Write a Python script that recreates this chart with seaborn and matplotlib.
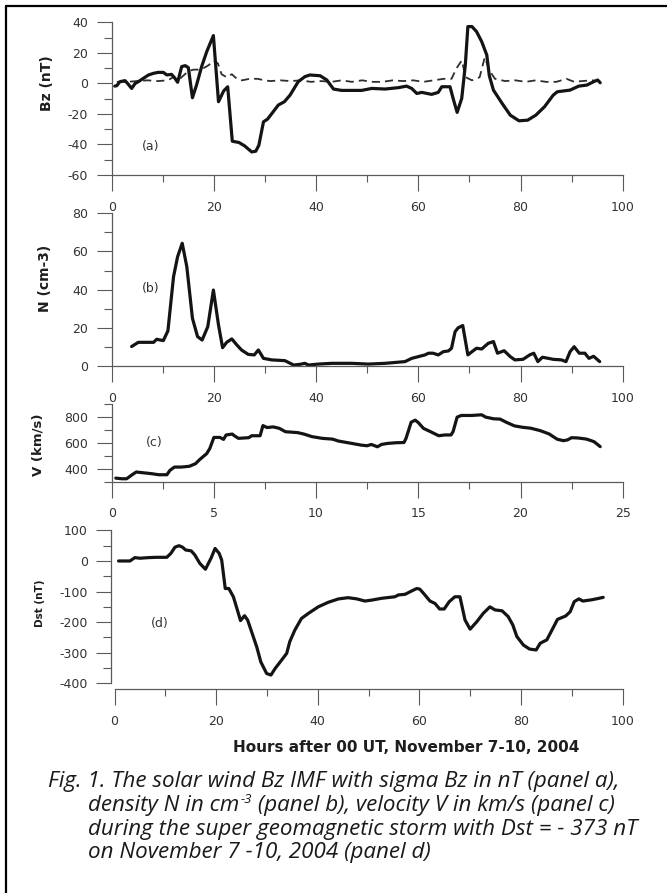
import numpy as np
import pandas as pd
import matplotlib
matplotlib.use("Agg")
import matplotlib.pyplot as plt
import seaborn as sns
from matplotlib import font_manager
from matplotlib.lines import Line2D
from matplotlib.ticker import MultipleLocator

# ---------------- data ----------------
bz_hours = [0.6, 1.0, 1.6, 2.6, 3.1, 3.9, 4.6, 5.2, 6.2, 7.2, 8.2, 9.1, 10.1, 10.8, 11.7,
            12.3, 12.9, 13.7, 14.4, 15.0, 15.8, 16.6, 17.6, 18.6, 19.9, 20.9, 21.9, 22.7,
            23.6, 24.9, 26.0, 27.4, 28.2, 28.8, 29.7, 30.5, 31.6, 32.6, 33.8, 34.9, 36.5,
            37.8, 38.8, 40.8, 42.1, 43.4, 45.0, 48.9, 50.9, 53.5, 56.1, 57.7, 58.7, 59.7,
            60.7, 62.6, 63.9, 64.6, 66.2, 66.9, 67.6, 68.5, 69.2, 69.7, 70.5, 71.4, 72.4,
            73.4, 73.9, 74.7, 76.4, 78.0, 79.7, 81.4, 83.0, 84.7, 86.4, 87.2, 89.7, 91.4,
            93.0, 94.3, 95.1, 95.6]
bz_values = [-1.8, -1.5, 1.1, 1.8, 0.0, -3.3, 0.0, 1.1, 3.3, 5.5, 6.6, 7.2, 7.2, 5.5, 5.9,
             3.7, 0.7, 11.0, 11.6, 10.3, -9.4, -1.1, 11.0, 20.8, 31.3, -12.0, -5.0, -2.2,
             -37.9, -38.7, -40.9, -44.9, -44.4, -40.5, -25.2, -23.4, -18.6, -14.2, -12.0, -7.7, 1.1,
             4.4, 5.5, 5.0, 2.2, -3.7, -4.6, -4.6, -3.3, -3.7, -2.8, -1.8, -3.3, -6.6,
             -5.9, -7.2, -5.9, -2.2, -2.2, -10.9, -19.0, -9.8, 12.0, 37.2, 37.2, 33.9, 27.4,
             18.6, 5.0, -4.4, -13.1, -20.8, -24.5, -24.1, -20.8, -15.3, -7.7, -5.5, -4.4, -1.8,
             -1.1, 1.1, 2.2, 0.4]

sigma_hours = [1, 3, 5, 7, 9, 11, 12, 13, 14, 15, 16, 17, 18, 19, 20, 20.8, 21.5, 22.5,
               23.5, 24.5, 25.5, 27, 28.5, 30, 31, 33, 35, 37, 39, 41, 43, 45, 47, 49, 51,
               53, 55, 57, 59, 61, 63, 65, 66.5, 67.5, 68.5, 69.3, 70.5, 72, 73, 74, 75, 77,
               79, 81, 83, 85, 87, 89, 90.5, 92, 94, 96]
sigma_values = [1, 1, 1.5, 2, 1.5, 2, 4, 2, 5, 8, 9, 9, 10, 12, 15, 13, 6, 4,
                6, 3, 2, 3, 3, 2, 1.5, 2, 1.5, 2, 1, 1.5, 1, 2, 1, 2, 1,
                1, 2, 1.5, 2, 1, 2, 3, 3, 10, 15, 4, 2, 4, 17, 8, 3, 1.5,
                2, 1, 2, 1, 1, 3, 1, 1.5, 2, 1]

n_hours = [3.9, 5.2, 8.2, 8.8, 10.1, 11.0, 12.1, 12.9, 13.8, 14.7, 15.8, 16.8, 17.7, 18.8,
           19.9, 20.9, 21.7, 22.5, 23.5, 24.5, 25.4, 26.7, 27.9, 28.7, 29.7, 31.3, 33.9,
           35.6, 36.9, 37.8, 38.5, 40.4, 43.1, 47.0, 50.2, 53.5, 57.4, 58.7, 60.0, 61.3,
           62.0, 62.9, 63.9, 64.9, 65.9, 66.5, 67.2, 67.8, 68.7, 69.7, 70.5, 71.4, 72.4,
           73.7, 74.7, 75.5, 76.8, 78.0, 78.9, 80.5, 81.8, 82.6, 83.4, 84.3, 86.4, 88.0,
           88.9, 89.7, 90.5, 91.5, 92.6, 93.4, 94.3, 95.5]
n_values = [10.2, 12.4, 12.4, 14.0, 13.3, 18.4, 46.8, 57.3, 64.3, 52.0, 25.0, 15.4, 13.6, 20.6,
            39.8, 21.5, 9.6, 12.4, 14.2, 11.0, 8.4, 6.1, 5.8, 8.4, 4.0, 3.2, 2.8,
            0.5, 0.9, 1.4, 0.5, 1.0, 1.4, 1.4, 1.0, 1.4, 2.3, 4.0, 4.9, 5.8,
            6.7, 6.7, 5.8, 7.5, 7.9, 9.3, 18.0, 20.0, 21.2, 5.8, 7.5, 9.3, 8.9,
            11.9, 12.8, 6.7, 8.0, 4.9, 3.2, 3.5, 5.8, 6.7, 2.3, 4.6, 3.5, 3.2,
            2.3, 7.5, 10.1, 6.7, 6.7, 4.0, 5.1, 2.3]

v_hours = [0.2, 0.5, 0.73, 1.0, 1.2, 1.55, 1.96, 2.3, 2.7, 2.85, 3.07, 3.4, 3.8, 4.1, 4.3,
           4.65, 4.8, 5.0, 5.3, 5.47, 5.6, 5.9, 6.0, 6.2, 6.7, 6.85, 7.26, 7.4, 7.6, 7.9,
           8.2, 8.5, 9.1, 9.4, 9.8, 10.3, 10.8, 11.1, 11.75, 12.2, 12.5, 12.7, 13.0, 13.2,
           13.5, 13.9, 14.3, 14.4, 14.65, 14.85, 15.0, 15.25, 15.6, 16.0, 16.3, 16.6, 16.7,
           16.9, 17.1, 17.6, 18.1, 18.3, 18.7, 19.0, 19.3, 19.7, 20.1, 20.5, 20.95, 21.4,
           21.6, 21.8, 22.1, 22.3, 22.5, 22.8, 23.2, 23.35, 23.6, 23.8, 23.9]
v_values = [326, 321, 321, 352, 373, 367, 360, 352, 352, 386, 411, 411, 417, 437, 468,
            515, 554, 639, 639, 624, 658, 665, 652, 632, 637, 652, 652, 730, 715, 720,
            709, 683, 676, 665, 645, 632, 626, 611, 593, 580, 575, 585, 567, 585,
            593, 598, 600, 632, 756, 772, 753, 709, 683, 652, 658, 658, 683,
            795, 808, 808, 813, 795, 782, 780, 756, 728, 717, 710, 692, 666,
            645, 625, 614, 620, 637, 635, 627, 620, 606, 581, 568]

dst_hours = [0.8, 3.05, 4.0, 5.0, 6.7, 8.3, 10.3, 11.1, 11.9, 12.7, 13.4, 14.0, 15.1, 15.8,
             16.8, 17.9, 19.0, 19.8, 20.6, 21.1, 21.8, 22.5, 23.4, 24.2, 24.8, 25.6, 26.2,
             27.0, 28.0, 28.8, 29.95, 30.8, 31.6, 32.9, 33.9, 34.5, 35.5, 36.8, 38.2, 40.1,
             42.1, 44.1, 46.0, 47.7, 49.3, 50.6, 52.6, 55.2, 55.9, 57.2, 58.5, 59.5, 60.1,
             61.1, 62.1, 63.1, 64.0, 64.9, 65.9, 67.0, 68.0, 69.0, 70.0, 71.3, 72.6, 73.9,
             74.9, 76.3, 77.5, 78.4, 79.2, 80.5, 81.7, 83.0, 83.8, 85.1, 86.3, 87.2, 88.8,
             89.7, 90.5, 91.4, 92.2, 93.9, 95.1, 96.2]
dst_values = [0, 0, 11, 9, 11, 12, 12, 25, 45, 50, 45, 36, 33, 20,
              -8, -27, 9, 41, 25, 3, -90, -90, -117, -161, -195, -179, -193,
              -232, -281, -330, -368, -373, -352, -324, -302, -264, -226, -188, -171, -150,
              -135, -124, -120, -124, -131, -128, -122, -117, -111, -109, -98, -90, -92,
              -111, -131, -139, -157, -157, -133, -117, -117, -193, -223, -199, -171, -150,
              -160, -163, -182, -209, -247, -275, -288, -291, -269, -258, -220, -191, -180,
              -166, -133, -124, -131, -127, -123, -119]

y_labels = ["Bz (nT)", "N (cm-3)", "V (km/s)", "Dst (nT)"]
panel_tags = ["(a)", "(b)", "(c)", "(d)"]
x_label = "Hours after 00 UT, November 7-10, 2004"
caption_lines = [
    "Fig. 1. The solar wind Bz IMF with sigma Bz in nT (panel a),",
    ("density N in cm", "-3", " (panel b), velocity V in km/s (panel c)"),
    "during the super geomagnetic storm with Dst = - 373 nT",
    "on November 7 -10, 2004 (panel d)",
]

# ---------------- style ----------------
sns.set_theme(style="ticks")
plt.rcParams['font.family'] = ['DejaVu Sans']
plt.rcParams['axes.facecolor'] = 'white'
plt.rcParams['axes.unicode_minus'] = False

W, H = 667, 893
fig = plt.figure(figsize=(W / 100, H / 100), dpi=100)
fig.patch.set_facecolor('white')


def rect(left, top, right, bottom):
    return [left / W, 1 - bottom / H, (right - left) / W, (bottom - top) / H]


ax_a = fig.add_axes(rect(111.7, 22.3, 622.7, 175.0))
ax_b = fig.add_axes(rect(111.7, 213.3, 622.7, 366.0))
ax_c = fig.add_axes(rect(111.7, 403.5, 622.7, 481.5))
ax_d = fig.add_axes(rect(114.5, 530.4, 622.5, 683.3))

LINE = '#141414'
AXC = '#5a5a5a'
LW = 2.3

df_bz = pd.DataFrame({'hour': bz_hours, 'val': bz_values})
df_sig = pd.DataFrame({'hour': sigma_hours, 'val': sigma_values})
df_n = pd.DataFrame({'hour': n_hours, 'val': n_values})
df_v = pd.DataFrame({'hour': v_hours, 'val': v_values})
df_dst = pd.DataFrame({'hour': dst_hours, 'val': dst_values})

sns.lineplot(data=df_sig, x='hour', y='val', ax=ax_a, color='#2e2e2e', lw=1.3,
             estimator=None, sort=False)
ax_a.lines[-1].set_dashes([4.5, 2.8])
sns.lineplot(data=df_bz, x='hour', y='val', ax=ax_a, color=LINE, lw=LW,
             estimator=None, sort=False)
sns.lineplot(data=df_n, x='hour', y='val', ax=ax_b, color=LINE, lw=LW,
             estimator=None, sort=False)
sns.lineplot(data=df_v, x='hour', y='val', ax=ax_c, color=LINE, lw=LW,
             estimator=None, sort=False)
sns.lineplot(data=df_dst, x='hour', y='val', ax=ax_d, color=LINE, lw=LW,
             estimator=None, sort=False)


def style(ax, xlim, xmaj, xmin, ylim, ymaj, ymin):
    sns.despine(ax=ax)
    ax.set_xlim(*xlim)
    ax.set_ylim(*ylim)
    ax.xaxis.set_major_locator(MultipleLocator(xmaj))
    ax.xaxis.set_minor_locator(MultipleLocator(xmin))
    ax.yaxis.set_major_locator(MultipleLocator(ymaj))
    ax.yaxis.set_minor_locator(MultipleLocator(ymin))
    for s in ['left', 'bottom']:
        ax.spines[s].set_color(AXC)
        ax.spines[s].set_linewidth(0.9)
    ax.tick_params(axis='x', which='major', direction='out', length=11.5, width=0.8,
                   color=AXC, labelsize=9, labelcolor='#333333', pad=7)
    ax.tick_params(axis='x', which='minor', direction='out', length=5, width=0.8, color=AXC)
    ax.tick_params(axis='y', which='major', direction='out', length=10.5, width=0.8,
                   color=AXC, labelsize=9, labelcolor='#333333', pad=6.5)
    ax.tick_params(axis='y', which='minor', direction='out', length=5.5, width=0.8, color=AXC)
    ax.set_xlabel('')
    ax.set_ylabel('')
    ax.patch.set_alpha(0)


style(ax_a, (0, 100), 20, 10, (-60, 40), 20, 10)
style(ax_b, (0, 100), 20, 10, (0, 80), 20, 10)
style(ax_c, (0, 25), 5, 2.5, (300, 900), 200, 100)
ax_c.set_yticks([400, 600, 800])
style(ax_d, (0, 100), 20, 10, (-400, 100), 100, 50)
ax_d.spines['bottom'].set_position(('outward', 4.3))
ax_d.spines['left'].set_position(('outward', 2.2))

# panel tags
tag_kw = dict(fontsize=9, color='#333333', ha='center', va='center')
ax_a.text(7.7, -41.6, panel_tags[0], **tag_kw)
ax_b.text(7.7, 40.7, panel_tags[1], **tag_kw)
ax_c.text(2.08, 600, panel_tags[2], **tag_kw)
ax_d.text(9.0, -203, panel_tags[3], **tag_kw)

# y labels
ylab_pos = [(46.8, 83, 10), (44.7, 278, 10), (38.3, 445, 9.5), (40.4, 603, 7.5)]
for lab, (x, y, fs) in zip(y_labels, ylab_pos):
    fig.text(x / W, 1 - y / H, lab, rotation=90, ha='center', va='center',
             fontsize=fs, fontweight='bold', color='#1e1e1e')

# x label
fig.text(406 / W, 1 - 748 / H, x_label, ha='center', va='center', fontsize=11,
         fontweight='bold', color='#1e1e1e')


# caption
def pick_italic():
    for fam in ['Open Sans', 'Noto Sans', 'Lato', 'Roboto', 'DejaVu Sans']:
        for f in font_manager.fontManager.ttflist:
            if f.name == fam and f.style == 'italic':
                return fam
    return 'DejaVu Sans'


cap_fam = pick_italic()
renderer = fig.canvas.get_renderer()
probe = fig.text(0, 0, caption_lines[2], fontsize=13, family=cap_fam, style='italic')
w = probe.get_window_extent(renderer).width
probe.remove()
cap_size = 13 * 547.0 / w

cap_kw = dict(family=cap_fam, style='italic', color='#1a1a1a', va='center', ha='left')
line_y = [782, 805.5, 829, 852.5]
fig.text(48 / W, 1 - line_y[0] / H, caption_lines[0], fontsize=cap_size, **cap_kw)
# line 2 with superscript
p1, p2, p3 = caption_lines[1]
t1 = fig.text(88.5 / W, 1 - line_y[1] / H, p1, fontsize=cap_size, **cap_kw)
x_px = 88.5 + t1.get_window_extent(renderer).width + 1
t2 = fig.text(x_px / W, 1 - (line_y[1] - 6) / H, p2, fontsize=cap_size * 0.6, **cap_kw)
x_px += t2.get_window_extent(renderer).width
fig.text(x_px / W, 1 - line_y[1] / H, p3, fontsize=cap_size, **cap_kw)
fig.text(88.5 / W, 1 - line_y[2] / H, caption_lines[2], fontsize=cap_size, **cap_kw)
fig.text(88.5 / W, 1 - line_y[3] / H, caption_lines[3], fontsize=cap_size, **cap_kw)

# frame lines (left & top)
fig.add_artist(Line2D([6 / W, 6 / W], [0, 1 - 5.5 / H], transform=fig.transFigure,
                      color='black', lw=1.6))
fig.add_artist(Line2D([6 / W, 1], [1 - 5.5 / H, 1 - 5.5 / H], transform=fig.transFigure,
                      color='black', lw=1.6))

fig.savefig('out.png', dpi=100, facecolor='white')
